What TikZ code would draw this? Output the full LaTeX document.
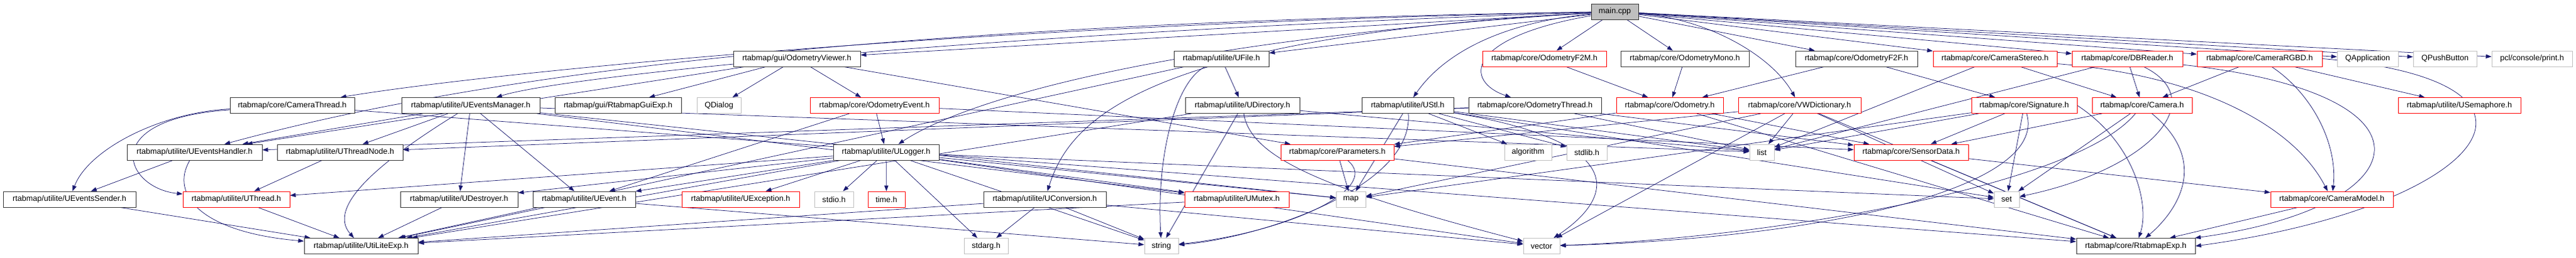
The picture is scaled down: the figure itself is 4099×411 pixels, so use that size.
\documentclass[tikz,border=0pt]{standalone}
\usepackage{fontspec}
\setmainfont{Liberation Sans}
\usetikzlibrary{arrows.meta}
\definecolor{edgec}{HTML}{191970}
\definecolor{grayb}{HTML}{BFBFBF}
\definecolor{redb}{HTML}{FF0000}
\pgfdeclarelayer{edgelayer}
\pgfsetlayers{edgelayer,main}
\begin{document}
\begin{tikzpicture}[x=1pt,y=-1pt,
  box/.style={draw, line width=0.9pt, minimum height=25pt, inner sep=0pt, font=\fontsize{12.6}{14}\selectfont, fill=white},
  hb/.style={box, draw=black!80},
  rb/.style={box, draw=redb},
  gb/.style={box, draw=grayb},
  ed/.style={draw=edgec, line width=0.75pt, -{Triangle[length=9pt,width=6.5pt]}}]
\useasboundingbox (0,0) rectangle (4099,411);
% row 0
\node[hb, fill=grayb, minimum width=75pt] (M) at (2569.5,18.5) {main.cpp};
% row 1
\node[hb, minimum width=202pt] (OV) at (1268,93.5) {rtabmap/gui/OdometryViewer.h};
\node[hb, minimum width=151pt] (UF) at (1943.5,93.5) {rtabmap/utilite/UFile.h};
\node[rb, minimum width=197pt] (F2M) at (2457.5,93.5) {rtabmap/core/OdometryF2M.h};
\node[hb, minimum width=204pt] (OM) at (2681,93.5) {rtabmap/core/OdometryMono.h};
\node[hb, minimum width=194pt] (F2F) at (2954,93.5) {rtabmap/core/OdometryF2F.h};
\node[rb, minimum width=197pt] (CS) at (3174.5,93.5) {rtabmap/core/CameraStereo.h};
\node[rb, minimum width=176pt] (DB) at (3385,93.5) {rtabmap/core/DBReader.h};
\node[rb, minimum width=199pt] (RGBD) at (3595.5,93.5) {rtabmap/core/CameraRGBD.h};
\node[gb, minimum width=97pt] (QA) at (3767.5,93.5) {QApplication};
\node[gb, minimum width=101pt] (QP) at (3890.5,93.5) {QPushButton};
\node[gb, minimum width=128pt] (PCL) at (4029,93.5) {pcl/console/print.h};
% row 2
\node[hb, minimum width=198pt] (CT) at (465,168) {rtabmap/core/CameraThread.h};
\node[hb, minimum width=220pt] (UEM) at (749,168) {rtabmap/utilite/UEventsManager.h};
\node[hb, minimum width=201pt] (RGE) at (983.5,168) {rtabmap/gui/RtabmapGuiExp.h};
\node[gb, minimum width=70pt] (QD) at (1144,168) {QDialog};
\node[rb, minimum width=205pt] (OE) at (1391.5,168) {rtabmap/core/OdometryEvent.h};
\node[hb, minimum width=182pt] (UD) at (1977,168) {rtabmap/utilite/UDirectory.h};
\node[hb, minimum width=146pt] (UST) at (2240,168) {rtabmap/utilite/UStl.h};
\node[hb, minimum width=211pt] (OT) at (2442.5,168) {rtabmap/core/OdometryThread.h};
\node[rb, minimum width=170pt] (OD) at (2657,168) {rtabmap/core/Odometry.h};
\node[rb, minimum width=195pt] (VW) at (2863.5,168) {rtabmap/core/VWDictionary.h};
\node[rb, minimum width=168pt] (SIG) at (3221,168) {rtabmap/core/Signature.h};
\node[rb, minimum width=159pt] (CAM) at (3408.5,168) {rtabmap/core/Camera.h};
\node[rb, minimum width=195pt] (SEM) at (3913.5,168) {rtabmap/utilite/USemaphore.h};
% row 3
\node[hb, minimum width=215pt] (UEH) at (309.5,242.5) {rtabmap/utilite/UEventsHandler.h};
\node[hb, minimum width=200pt] (UTN) at (541,242.5) {rtabmap/utilite/UThreadNode.h};
\node[hb, minimum width=168pt] (UL) at (1410,242.5) {rtabmap/utilite/ULogger.h};
\node[rb, minimum width=180pt] (P) at (2128,242.5) {rtabmap/core/Parameters.h};
\node[gb, minimum width=75pt] (ALG) at (2431.5,242.5) {algorithm};
\node[gb, minimum width=64pt] (STDLIB) at (2525,242.5) {stdlib.h};
\node[gb, minimum width=39pt] (LIST) at (2803.5,242.5) {list};
\node[rb, minimum width=182pt] (SD) at (3041,242.5) {rtabmap/core/SensorData.h};
% row 4
\node[hb, minimum width=211pt] (UES) at (110.5,317.5) {rtabmap/utilite/UEventsSender.h};
\node[rb, minimum width=170pt] (UT) at (376,317.5) {rtabmap/utilite/UThread.h};
\node[hb, minimum width=187pt] (UDE) at (730.5,317.5) {rtabmap/utilite/UDestroyer.h};
\node[hb, minimum width=163pt] (UEV) at (929.5,317.5) {rtabmap/utilite/UEvent.h};
\node[rb, minimum width=187pt] (UEX) at (1178.5,317.5) {rtabmap/utilite/UException.h};
\node[gb, minimum width=62pt] (STDIO) at (1327,317.5) {stdio.h};
\node[rb, minimum width=59pt] (TIME) at (1410.5,317.5) {time.h};
\node[hb, minimum width=195pt] (UC) at (1662.5,317.5) {rtabmap/utilite/UConversion.h};
\node[rb, minimum width=166pt] (UMX) at (1968,317.5) {rtabmap/utilite/UMutex.h};
\node[gb, minimum width=47pt] (MAP) at (2149.5,317.5) {map};
\node[gb, minimum width=40pt] (SET) at (3193,317.5) {set};
\node[rb, minimum width=195pt] (CMOD) at (3710.5,317.5) {rtabmap/core/CameraModel.h};
% row 5
\node[hb, minimum width=181pt] (UE) at (574.5,392) {rtabmap/utilite/UtiLiteExp.h};
\node[gb, minimum width=70pt] (STDARG) at (1569,392) {stdarg.h};
\node[gb, minimum width=54pt] (STR) at (1848,392) {string};
\node[gb, minimum width=58pt] (VEC) at (2453,392) {vector};
\node[hb, minimum width=189pt] (RE) at (3398.5,392) {rtabmap/core/RtabmapExp.h};

\begin{pgfonlayer}{edgelayer}
\fill[white] (0,0) rectangle (4099,411);
% edges from main
\draw[ed] (M) .. controls (1500,40) and (750,120) .. (CT);
\draw[ed] (M) .. controls (1600,50) and (900,120) .. (UEM);
\draw[ed] (M) -- (OV);
\draw[ed] (M) -- (UF);
\draw[ed] (M) .. controls (1900,60) and (1550,150) .. (UL);
\draw[ed] (M) .. controls (1800,60) and (1700,200) .. (UC);
\draw[ed] (M) .. controls (2350,40) and (2280,110) .. (UST);
\draw[ed] (M) -- (F2M);
\draw[ed] (M) -- (OM);
\draw[ed] (M) .. controls (2330,60) and (2330,130) .. (OT);
\draw[ed] (M) .. controls (2720,30) and (2820,90) .. (VW);
\draw[ed] (M) -- (F2F);
\draw[ed] (M) -- (CS);
\draw[ed] (M) -- (DB);
\draw[ed] (M) -- (RGBD);
\draw[ed] (M) -- (QA);
\draw[ed] (M) -- (QP);
\draw[ed] (M) -- (PCL);
\draw[ed] (M) .. controls (1200,40) and (650,150) .. (UEH);
% gui
\draw[ed] (OV) -- (RGE);
\draw[ed] (OV) -- (QD);
\draw[ed] (OV) -- (OE);
\draw[ed] (OV) -- (UEH);
\draw[ed] (OV) -- (P);
\draw[ed] (OE) -- (UL);
\draw[ed] (OE) -- (UEV);
\draw[ed] (OE) -- (SD);
% utilite
\draw[ed] (UF) -- (UD);
\draw[ed] (UF) .. controls (1870,130) and (1840,250) .. (STR);
\draw[ed] (UF) -- (UE);
\draw[ed] (UD) -- (UE);
\draw[ed] (UD) -- (STR);
\draw[ed] (UD) .. controls (1990,250) and (2100,300) .. (VEC);
\draw[ed] (UD) -- (LIST);
\draw[ed] (UEM) -- (UEH);
\draw[ed] (UEM) -- (UTN);
\draw[ed] (UEM) -- (UDE);
\draw[ed] (UEM) .. controls (600,260) and (520,330) .. (UE);
\draw[ed] (UEM) -- (UEV);
\draw[ed] (UEM) -- (UMX);
\draw[ed] (UEM) -- (LIST);
\draw[ed] (UEM) -- (MAP);
\draw[ed] (CT) .. controls (250,180) and (140,240) .. (UES);
\draw[ed] (CT) .. controls (150,190) and (200,300) .. (UT);
\draw[ed] (CT) -- (RE);
\draw[ed] (UEH) -- (UES);
\draw[ed] (UEH) .. controls (270,310) and (320,370) .. (UE);
\draw[ed] (UES) -- (UE);
\draw[ed] (UTN) -- (UT);
\draw[ed] (UT) -- (UE);
\draw[ed] (UL) -- (UT);
\draw[ed] (UDE) -- (UE);
\draw[ed] (UEV) -- (UE);
\draw[ed] (UEV) -- (STR);
\draw[ed] (UL) -- (UE);
\draw[ed] (UL) -- (UDE);
\draw[ed] (UL) -- (UEV);
\draw[ed] (UL) -- (UEX);
\draw[ed] (UL) -- (STDIO);
\draw[ed] (UL) -- (TIME);
\draw[ed] (UL) -- (STDARG);
\draw[ed] (UL) -- (UMX);
\draw[ed] (UL) -- (STR);
\draw[ed] (UL) -- (VEC);
\draw[ed] (UL) -- (MAP);
\draw[ed] (UL) -- (SET);
\draw[ed] (UC) -- (STR);
\draw[ed] (UC) -- (VEC);
\draw[ed] (UC) -- (STDARG);
\draw[ed] (UC) -- (UE);
\draw[ed] (UMX) -- (UE);
\draw[ed] (UST) -- (ALG);
\draw[ed] (UST) -- (STDLIB);
\draw[ed] (UST) -- (LIST);
\draw[ed] (UST) -- (MAP);
\draw[ed] (UST) -- (SET);
\draw[ed] (UST) .. controls (2560,220) and (2590,300) .. (VEC);
\draw[ed] (UST) .. controls (2250,300) and (2000,380) .. (STR);
% core
\draw[ed] (P) -- (MAP);
\draw[ed] (P) .. controls (2200,300) and (2050,370) .. (STR);
\draw[ed] (P) -- (RE);
\draw[ed] (F2M) -- (OD);
\draw[ed] (OM) -- (OD);
\draw[ed] (F2F) -- (OD);
\draw[ed] (F2F) -- (SIG);
\draw[ed] (OD) -- (P);
\draw[ed] (OD) -- (RE);
\draw[ed] (OD) -- (SD);
\draw[ed] (OT) -- (UTN);
\draw[ed] (OT) -- (UEH);
\draw[ed] (OT) -- (SD);
\draw[ed] (OT) -- (LIST);
\draw[ed] (VW) -- (LIST);
\draw[ed] (VW) -- (P);
\draw[ed] (VW) -- (RE);
\draw[ed] (VW) -- (SET);
\draw[ed] (VW) -- (MAP);
\draw[ed] (VW) -- (VEC);
\draw[ed] (CS) -- (CAM);
\draw[ed] (CS) -- (LIST);
\draw[ed] (CS) .. controls (3500,120) and (3650,200) .. (CMOD);
\draw[ed] (DB) -- (CAM);
\draw[ed] (DB) -- (LIST);
\draw[ed] (DB) .. controls (3520,160) and (3420,270) .. (SET);
\draw[ed] (DB) .. controls (3900,150) and (3850,330) .. (RE);
\draw[ed] (RGBD) -- (CAM);
\draw[ed] (RGBD) .. controls (3680,150) and (3720,230) .. (CMOD);
\draw[ed] (RGBD) -- (SEM);
\draw[ed] (RGBD.east) .. controls (4120,130) and (3950,330) .. (RE.east);
\draw[ed] (CAM) -- (SD);
\draw[ed] (CAM) -- (SET);
\draw[ed] (CAM) .. controls (3300,300) and (2800,380) .. (VEC);
\draw[ed] (CAM) .. controls (3520,260) and (3460,340) .. (RE);
\draw[ed] (SIG) -- (SD);
\draw[ed] (SIG) -- (SET);
\draw[ed] (SIG) -- (LIST);
\draw[ed] (SIG) -- (MAP);
\draw[ed] (SIG) .. controls (3260,300) and (2900,380) .. (VEC);
\draw[ed] (SIG.east) .. controls (3400,230) and (3420,330) .. (RE);
\draw[ed] (SD) -- (CMOD);
\draw[ed] (SD) -- (RE);
\draw[ed] (CMOD) -- (RE);
\end{pgfonlayer}
\end{tikzpicture}
\end{document}
